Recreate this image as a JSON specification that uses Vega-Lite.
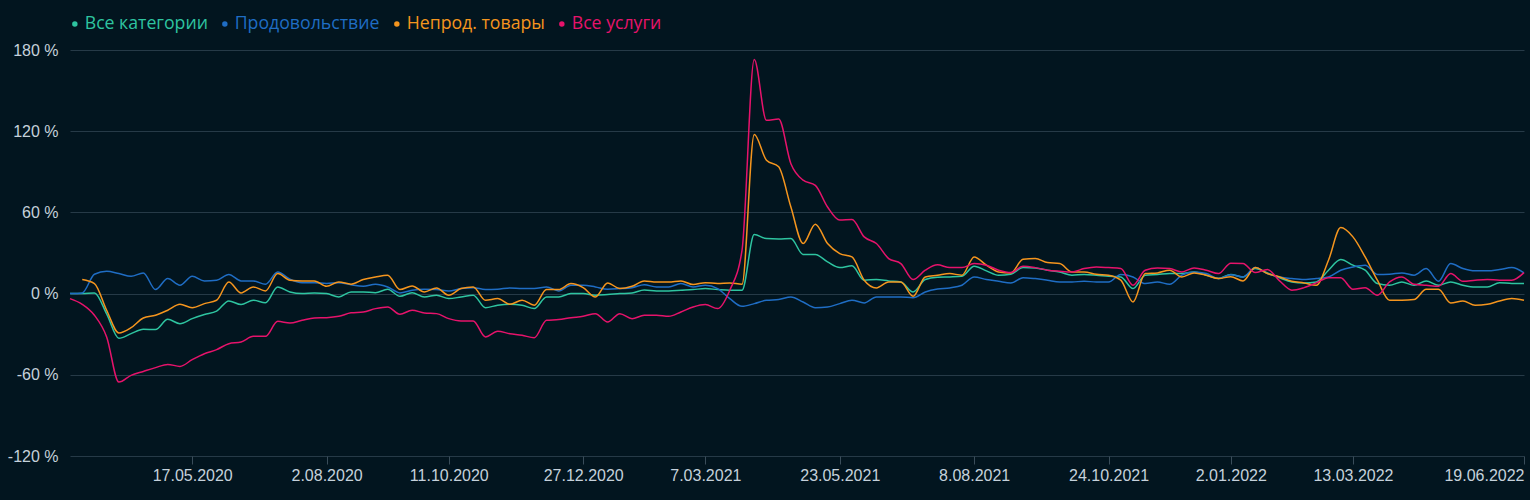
{
"$schema": "https://vega.github.io/schema/vega-lite/v6.json",
"width": 1454, "height": 406,
"autosize": {"type": "none"},
"padding": {"left": 70, "top": 50, "right": 6, "bottom": 44},
"background": "#02151f",
"config": {"view": {"stroke": null}},
"data": {"values": [
{"date":"2020-03-08","series":"Все категории","value":0},
{"date":"2020-03-15","series":"Все категории","value":0},
{"date":"2020-03-22","series":"Все категории","value":0.5},
{"date":"2020-03-29","series":"Все категории","value":-15},
{"date":"2020-04-05","series":"Все категории","value":-33},
{"date":"2020-04-12","series":"Все категории","value":-29.6},
{"date":"2020-04-19","series":"Все категории","value":-26.4},
{"date":"2020-04-26","series":"Все категории","value":-26.6},
{"date":"2020-05-03","series":"Все категории","value":-19},
{"date":"2020-05-10","series":"Все категории","value":-22.2},
{"date":"2020-05-17","series":"Все категории","value":-18.5},
{"date":"2020-05-24","series":"Все категории","value":-15.5},
{"date":"2020-05-31","series":"Все категории","value":-13},
{"date":"2020-06-07","series":"Все категории","value":-5.4},
{"date":"2020-06-14","series":"Все категории","value":-8.1},
{"date":"2020-06-21","series":"Все категории","value":-4.9},
{"date":"2020-06-28","series":"Все категории","value":-6.7},
{"date":"2020-07-05","series":"Все категории","value":4.9},
{"date":"2020-07-12","series":"Все категории","value":1.2},
{"date":"2020-07-19","series":"Все категории","value":0},
{"date":"2020-07-26","series":"Все категории","value":0.5},
{"date":"2020-08-02","series":"Все категории","value":0},
{"date":"2020-08-09","series":"Все категории","value":-2.5},
{"date":"2020-08-16","series":"Все категории","value":1.2},
{"date":"2020-08-23","series":"Все категории","value":1.2},
{"date":"2020-08-30","series":"Все категории","value":0.7},
{"date":"2020-09-06","series":"Все категории","value":3.2},
{"date":"2020-09-13","series":"Все категории","value":-2},
{"date":"2020-09-20","series":"Все категории","value":0.7},
{"date":"2020-09-27","series":"Все категории","value":-2.5},
{"date":"2020-10-04","series":"Все категории","value":-1.2},
{"date":"2020-10-11","series":"Все категории","value":-3.7},
{"date":"2020-10-18","series":"Все категории","value":-2.5},
{"date":"2020-10-25","series":"Все категории","value":-1.2},
{"date":"2020-11-01","series":"Все категории","value":-10.4},
{"date":"2020-11-08","series":"Все категории","value":-8.6},
{"date":"2020-11-15","series":"Все категории","value":-7.9},
{"date":"2020-11-22","series":"Все категории","value":-8.6},
{"date":"2020-11-29","series":"Все категории","value":-11.1},
{"date":"2020-12-06","series":"Все категории","value":-2.5},
{"date":"2020-12-13","series":"Все категории","value":-2.5},
{"date":"2020-12-20","series":"Все категории","value":0},
{"date":"2020-12-27","series":"Все категории","value":0},
{"date":"2021-01-03","series":"Все категории","value":-1.2},
{"date":"2021-01-10","series":"Все категории","value":-0.7},
{"date":"2021-01-17","series":"Все категории","value":0},
{"date":"2021-01-24","series":"Все категории","value":0.5},
{"date":"2021-01-31","series":"Все категории","value":2.7},
{"date":"2021-02-07","series":"Все категории","value":2},
{"date":"2021-02-14","series":"Все категории","value":2},
{"date":"2021-02-21","series":"Все категории","value":2.5},
{"date":"2021-02-28","series":"Все категории","value":3},
{"date":"2021-03-07","series":"Все категории","value":3.7},
{"date":"2021-03-14","series":"Все категории","value":3},
{"date":"2021-03-21","series":"Все категории","value":2.5},
{"date":"2021-03-28","series":"Все категории","value":2.5},
{"date":"2021-04-04","series":"Все категории","value":43.6},
{"date":"2021-04-11","series":"Все категории","value":40.7},
{"date":"2021-04-18","series":"Все категории","value":40.4},
{"date":"2021-04-25","series":"Все категории","value":40.7},
{"date":"2021-05-02","series":"Все категории","value":28.9},
{"date":"2021-05-09","series":"Все категории","value":28.9},
{"date":"2021-05-16","series":"Все категории","value":23.4},
{"date":"2021-05-23","series":"Все категории","value":19.2},
{"date":"2021-05-30","series":"Все категории","value":20.5},
{"date":"2021-06-06","series":"Все категории","value":9.9},
{"date":"2021-06-13","series":"Все категории","value":10.4},
{"date":"2021-06-20","series":"Все категории","value":9.4},
{"date":"2021-06-27","series":"Все категории","value":8.6},
{"date":"2021-07-04","series":"Все категории","value":1.2},
{"date":"2021-07-11","series":"Все категории","value":10.4},
{"date":"2021-07-18","series":"Все категории","value":12},
{"date":"2021-07-25","series":"Все категории","value":12.3},
{"date":"2021-08-01","series":"Все категории","value":12.8},
{"date":"2021-08-08","series":"Все категории","value":20.2},
{"date":"2021-08-15","series":"Все категории","value":16.8},
{"date":"2021-08-22","series":"Все категории","value":13.6},
{"date":"2021-08-29","series":"Все категории","value":14.3},
{"date":"2021-09-05","series":"Все категории","value":19.2},
{"date":"2021-09-12","series":"Все категории","value":19},
{"date":"2021-09-19","series":"Все категории","value":17.3},
{"date":"2021-09-26","series":"Все категории","value":16},
{"date":"2021-10-03","series":"Все категории","value":13.6},
{"date":"2021-10-10","series":"Все категории","value":14.1},
{"date":"2021-10-17","series":"Все категории","value":13.6},
{"date":"2021-10-24","series":"Все категории","value":12.8},
{"date":"2021-10-31","series":"Все категории","value":12.3},
{"date":"2021-11-07","series":"Все категории","value":3.7},
{"date":"2021-11-14","series":"Все категории","value":13.6},
{"date":"2021-11-21","series":"Все категории","value":14.1},
{"date":"2021-11-28","series":"Все категории","value":14.8},
{"date":"2021-12-05","series":"Все категории","value":14.8},
{"date":"2021-12-12","series":"Все категории","value":16},
{"date":"2021-12-19","series":"Все категории","value":13.6},
{"date":"2021-12-26","series":"Все категории","value":11.1},
{"date":"2022-01-02","series":"Все категории","value":14.2},
{"date":"2022-01-09","series":"Все категории","value":12.3},
{"date":"2022-01-16","series":"Все категории","value":18.5},
{"date":"2022-01-23","series":"Все категории","value":15.3},
{"date":"2022-01-30","series":"Все категории","value":11.6},
{"date":"2022-02-06","series":"Все категории","value":8.6},
{"date":"2022-02-13","series":"Все категории","value":7.9},
{"date":"2022-02-20","series":"Все категории","value":8.6},
{"date":"2022-02-27","series":"Все категории","value":17.3},
{"date":"2022-03-06","series":"Все категории","value":25.2},
{"date":"2022-03-13","series":"Все категории","value":21},
{"date":"2022-03-20","series":"Все категории","value":17.3},
{"date":"2022-03-27","series":"Все категории","value":7.4},
{"date":"2022-04-03","series":"Все категории","value":6.2},
{"date":"2022-04-10","series":"Все категории","value":8.6},
{"date":"2022-04-17","series":"Все категории","value":6.2},
{"date":"2022-04-24","series":"Все категории","value":9.4},
{"date":"2022-05-01","series":"Все категории","value":6.2},
{"date":"2022-05-08","series":"Все категории","value":8.6},
{"date":"2022-05-15","series":"Все категории","value":6.2},
{"date":"2022-05-22","series":"Все категории","value":4.9},
{"date":"2022-05-29","series":"Все категории","value":4.9},
{"date":"2022-06-05","series":"Все категории","value":8.1},
{"date":"2022-06-12","series":"Все категории","value":7.4},
{"date":"2022-06-19","series":"Все категории","value":7.4},
{"date":"2020-03-08","series":"Продовольствие","value":0},
{"date":"2020-03-15","series":"Продовольствие","value":0.5},
{"date":"2020-03-22","series":"Продовольствие","value":14.3},
{"date":"2020-03-29","series":"Продовольствие","value":16.5},
{"date":"2020-04-05","series":"Продовольствие","value":14.8},
{"date":"2020-04-12","series":"Продовольствие","value":12.8},
{"date":"2020-04-19","series":"Продовольствие","value":15.3},
{"date":"2020-04-26","series":"Продовольствие","value":3},
{"date":"2020-05-03","series":"Продовольствие","value":11.1},
{"date":"2020-05-10","series":"Продовольствие","value":6.2},
{"date":"2020-05-17","series":"Продовольствие","value":12.8},
{"date":"2020-05-24","series":"Продовольствие","value":9.4},
{"date":"2020-05-31","series":"Продовольствие","value":9.9},
{"date":"2020-06-07","series":"Продовольствие","value":14.1},
{"date":"2020-06-14","series":"Продовольствие","value":9.4},
{"date":"2020-06-21","series":"Продовольствие","value":9.4},
{"date":"2020-06-28","series":"Продовольствие","value":6.9},
{"date":"2020-07-05","series":"Продовольствие","value":16},
{"date":"2020-07-12","series":"Продовольствие","value":10.6},
{"date":"2020-07-19","series":"Продовольствие","value":8.1},
{"date":"2020-07-26","series":"Продовольствие","value":8.1},
{"date":"2020-08-02","series":"Продовольствие","value":7.4},
{"date":"2020-08-09","series":"Продовольствие","value":8.1},
{"date":"2020-08-16","series":"Продовольствие","value":6.5},
{"date":"2020-08-23","series":"Продовольствие","value":5.4},
{"date":"2020-08-30","series":"Продовольствие","value":6.9},
{"date":"2020-09-06","series":"Продовольствие","value":4.9},
{"date":"2020-09-13","series":"Продовольствие","value":0.5},
{"date":"2020-09-20","series":"Продовольствие","value":2.5},
{"date":"2020-09-27","series":"Продовольствие","value":3.2},
{"date":"2020-10-04","series":"Продовольствие","value":3},
{"date":"2020-10-11","series":"Продовольствие","value":2},
{"date":"2020-10-18","series":"Продовольствие","value":3.7},
{"date":"2020-10-25","series":"Продовольствие","value":4.4},
{"date":"2020-11-01","series":"Продовольствие","value":3},
{"date":"2020-11-08","series":"Продовольствие","value":3.2},
{"date":"2020-11-15","series":"Продовольствие","value":4.2},
{"date":"2020-11-22","series":"Продовольствие","value":3.7},
{"date":"2020-11-29","series":"Продовольствие","value":3.7},
{"date":"2020-12-06","series":"Продовольствие","value":4.9},
{"date":"2020-12-13","series":"Продовольствие","value":2},
{"date":"2020-12-20","series":"Продовольствие","value":6.2},
{"date":"2020-12-27","series":"Продовольствие","value":6.2},
{"date":"2021-01-03","series":"Продовольствие","value":4.9},
{"date":"2021-01-10","series":"Продовольствие","value":3.2},
{"date":"2021-01-17","series":"Продовольствие","value":3.7},
{"date":"2021-01-24","series":"Продовольствие","value":4.4},
{"date":"2021-01-31","series":"Продовольствие","value":6.5},
{"date":"2021-02-07","series":"Продовольствие","value":4.9},
{"date":"2021-02-14","series":"Продовольствие","value":4.9},
{"date":"2021-02-21","series":"Продовольствие","value":7.4},
{"date":"2021-02-28","series":"Продовольствие","value":4.9},
{"date":"2021-03-07","series":"Продовольствие","value":6.2},
{"date":"2021-03-14","series":"Продовольствие","value":3.7},
{"date":"2021-03-21","series":"Продовольствие","value":-3.7},
{"date":"2021-03-28","series":"Продовольствие","value":-9.4},
{"date":"2021-04-04","series":"Продовольствие","value":-7.4},
{"date":"2021-04-11","series":"Продовольствие","value":-4.9},
{"date":"2021-04-18","series":"Продовольствие","value":-4.4},
{"date":"2021-04-25","series":"Продовольствие","value":-2.5},
{"date":"2021-05-02","series":"Продовольствие","value":-6.2},
{"date":"2021-05-09","series":"Продовольствие","value":-10.4},
{"date":"2021-05-16","series":"Продовольствие","value":-9.9},
{"date":"2021-05-23","series":"Продовольствие","value":-7.4},
{"date":"2021-05-30","series":"Продовольствие","value":-4.9},
{"date":"2021-06-06","series":"Продовольствие","value":-6.9},
{"date":"2021-06-13","series":"Продовольствие","value":-2.5},
{"date":"2021-06-20","series":"Продовольствие","value":-2.5},
{"date":"2021-06-27","series":"Продовольствие","value":-2.5},
{"date":"2021-07-04","series":"Продовольствие","value":-3},
{"date":"2021-07-11","series":"Продовольствие","value":1.2},
{"date":"2021-07-18","series":"Продовольствие","value":3.4},
{"date":"2021-07-25","series":"Продовольствие","value":4.2},
{"date":"2021-08-01","series":"Продовольствие","value":6.2},
{"date":"2021-08-08","series":"Продовольствие","value":12.3},
{"date":"2021-08-15","series":"Продовольствие","value":10.4},
{"date":"2021-08-22","series":"Продовольствие","value":9.1},
{"date":"2021-08-29","series":"Продовольствие","value":7.9},
{"date":"2021-09-05","series":"Продовольствие","value":11.8},
{"date":"2021-09-12","series":"Продовольствие","value":11.1},
{"date":"2021-09-19","series":"Продовольствие","value":9.9},
{"date":"2021-09-26","series":"Продовольствие","value":8.6},
{"date":"2021-10-03","series":"Продовольствие","value":8.6},
{"date":"2021-10-10","series":"Продовольствие","value":9.1},
{"date":"2021-10-17","series":"Продовольствие","value":8.6},
{"date":"2021-10-24","series":"Продовольствие","value":8.6},
{"date":"2021-10-31","series":"Продовольствие","value":14.1},
{"date":"2021-11-07","series":"Продовольствие","value":12.3},
{"date":"2021-11-14","series":"Продовольствие","value":7.4},
{"date":"2021-11-21","series":"Продовольствие","value":8.6},
{"date":"2021-11-28","series":"Продовольствие","value":6.9},
{"date":"2021-12-05","series":"Продовольствие","value":13.6},
{"date":"2021-12-12","series":"Продовольствие","value":16},
{"date":"2021-12-19","series":"Продовольствие","value":14.8},
{"date":"2021-12-26","series":"Продовольствие","value":11.1},
{"date":"2022-01-02","series":"Продовольствие","value":14},
{"date":"2022-01-09","series":"Продовольствие","value":12.3},
{"date":"2022-01-16","series":"Продовольствие","value":19.2},
{"date":"2022-01-23","series":"Продовольствие","value":14.8},
{"date":"2022-01-30","series":"Продовольствие","value":12.3},
{"date":"2022-02-06","series":"Продовольствие","value":11.1},
{"date":"2022-02-13","series":"Продовольствие","value":10.4},
{"date":"2022-02-20","series":"Продовольствие","value":11.1},
{"date":"2022-02-27","series":"Продовольствие","value":12.3},
{"date":"2022-03-06","series":"Продовольствие","value":17.3},
{"date":"2022-03-13","series":"Продовольствие","value":19.7},
{"date":"2022-03-20","series":"Продовольствие","value":21},
{"date":"2022-03-27","series":"Продовольствие","value":14.1},
{"date":"2022-04-03","series":"Продовольствие","value":14.3},
{"date":"2022-04-10","series":"Продовольствие","value":15.3},
{"date":"2022-04-17","series":"Продовольствие","value":13.6},
{"date":"2022-04-24","series":"Продовольствие","value":18.5},
{"date":"2022-05-01","series":"Продовольствие","value":9.1},
{"date":"2022-05-08","series":"Продовольствие","value":22.2},
{"date":"2022-05-15","series":"Продовольствие","value":18.5},
{"date":"2022-05-22","series":"Продовольствие","value":16.8},
{"date":"2022-05-29","series":"Продовольствие","value":16.8},
{"date":"2022-06-05","series":"Продовольствие","value":17.8},
{"date":"2022-06-12","series":"Продовольствие","value":19.2},
{"date":"2022-06-19","series":"Продовольствие","value":15.3},
{"date":"2020-03-15","series":"Непрод. товары","value":10.4},
{"date":"2020-03-22","series":"Непрод. товары","value":7.4},
{"date":"2020-03-29","series":"Непрод. товары","value":-12.3},
{"date":"2020-04-05","series":"Непрод. товары","value":-29.1},
{"date":"2020-04-12","series":"Непрод. товары","value":-25.2},
{"date":"2020-04-19","series":"Непрод. товары","value":-18},
{"date":"2020-04-26","series":"Непрод. товары","value":-16},
{"date":"2020-05-03","series":"Непрод. товары","value":-12.3},
{"date":"2020-05-10","series":"Непрод. товары","value":-7.9},
{"date":"2020-05-17","series":"Непрод. товары","value":-10.4},
{"date":"2020-05-24","series":"Непрод. товары","value":-7.4},
{"date":"2020-05-31","series":"Непрод. товары","value":-4.9},
{"date":"2020-06-07","series":"Непрод. товары","value":8.6},
{"date":"2020-06-14","series":"Непрод. товары","value":0.5},
{"date":"2020-06-21","series":"Непрод. товары","value":4.9},
{"date":"2020-06-28","series":"Непрод. товары","value":2},
{"date":"2020-07-05","series":"Непрод. товары","value":14.8},
{"date":"2020-07-12","series":"Непрод. товары","value":9.9},
{"date":"2020-07-19","series":"Непрод. товары","value":9.4},
{"date":"2020-07-26","series":"Непрод. товары","value":9.4},
{"date":"2020-08-02","series":"Непрод. товары","value":5.4},
{"date":"2020-08-09","series":"Непрод. товары","value":8.6},
{"date":"2020-08-16","series":"Непрод. товары","value":7},
{"date":"2020-08-23","series":"Непрод. товары","value":10.4},
{"date":"2020-08-30","series":"Непрод. товары","value":12.3},
{"date":"2020-09-06","series":"Непрод. товары","value":13.6},
{"date":"2020-09-13","series":"Непрод. товары","value":3},
{"date":"2020-09-20","series":"Непрод. товары","value":5.7},
{"date":"2020-09-27","series":"Непрод. товары","value":1.2},
{"date":"2020-10-04","series":"Непрод. товары","value":4.2},
{"date":"2020-10-11","series":"Непрод. товары","value":-1.2},
{"date":"2020-10-18","series":"Непрод. товары","value":3.7},
{"date":"2020-10-25","series":"Непрод. товары","value":4.9},
{"date":"2020-11-01","series":"Непрод. товары","value":-4.9},
{"date":"2020-11-08","series":"Непрод. товары","value":-3.7},
{"date":"2020-11-15","series":"Непрод. товары","value":-7.9},
{"date":"2020-11-22","series":"Непрод. товары","value":-4.9},
{"date":"2020-11-29","series":"Непрод. товары","value":-8.6},
{"date":"2020-12-06","series":"Непрод. товары","value":3},
{"date":"2020-12-13","series":"Непрод. товары","value":3},
{"date":"2020-12-20","series":"Непрод. товары","value":7.4},
{"date":"2020-12-27","series":"Непрод. товары","value":4.4},
{"date":"2021-01-03","series":"Непрод. товары","value":-2.5},
{"date":"2021-01-10","series":"Непрод. товары","value":7.9},
{"date":"2021-01-17","series":"Непрод. товары","value":3.7},
{"date":"2021-01-24","series":"Непрод. товары","value":5.4},
{"date":"2021-01-31","series":"Непрод. товары","value":9.4},
{"date":"2021-02-07","series":"Непрод. товары","value":8.6},
{"date":"2021-02-14","series":"Непрод. товары","value":8.6},
{"date":"2021-02-21","series":"Непрод. товары","value":9.4},
{"date":"2021-02-28","series":"Непрод. товары","value":6.7},
{"date":"2021-03-07","series":"Непрод. товары","value":8.1},
{"date":"2021-03-14","series":"Непрод. товары","value":7.4},
{"date":"2021-03-21","series":"Непрод. товары","value":7.9},
{"date":"2021-03-28","series":"Непрод. товары","value":6.9},
{"date":"2021-04-04","series":"Непрод. товары","value":117.6},
{"date":"2021-04-11","series":"Непрод. товары","value":98.6},
{"date":"2021-04-18","series":"Непрод. товары","value":93.7},
{"date":"2021-04-25","series":"Непрод. товары","value":64},
{"date":"2021-05-02","series":"Непрод. товары","value":37},
{"date":"2021-05-09","series":"Непрод. товары","value":51.3},
{"date":"2021-05-16","series":"Непрод. товары","value":37},
{"date":"2021-05-23","series":"Непрод. товары","value":29.6},
{"date":"2021-05-30","series":"Непрод. товары","value":27.1},
{"date":"2021-06-06","series":"Непрод. товары","value":9.9},
{"date":"2021-06-13","series":"Непрод. товары","value":4.2},
{"date":"2021-06-20","series":"Непрод. товары","value":8.6},
{"date":"2021-06-27","series":"Непрод. товары","value":8.6},
{"date":"2021-07-04","series":"Непрод. товары","value":-2},
{"date":"2021-07-11","series":"Непрод. товары","value":12.3},
{"date":"2021-07-18","series":"Непрод. товары","value":13.5},
{"date":"2021-07-25","series":"Непрод. товары","value":14.8},
{"date":"2021-08-01","series":"Непрод. товары","value":13.6},
{"date":"2021-08-08","series":"Непрод. товары","value":27.1},
{"date":"2021-08-15","series":"Непрод. товары","value":21},
{"date":"2021-08-22","series":"Непрод. товары","value":16},
{"date":"2021-08-29","series":"Непрод. товары","value":15.3},
{"date":"2021-09-05","series":"Непрод. товары","value":25.4},
{"date":"2021-09-12","series":"Непрод. товары","value":25.9},
{"date":"2021-09-19","series":"Непрод. товары","value":22.9},
{"date":"2021-09-26","series":"Непрод. товары","value":22.2},
{"date":"2021-10-03","series":"Непрод. товары","value":16},
{"date":"2021-10-10","series":"Непрод. товары","value":16},
{"date":"2021-10-17","series":"Непрод. товары","value":14.3},
{"date":"2021-10-24","series":"Непрод. товары","value":13.6},
{"date":"2021-10-31","series":"Непрод. товары","value":9.9},
{"date":"2021-11-07","series":"Непрод. товары","value":-6.2},
{"date":"2021-11-14","series":"Непрод. товары","value":14.8},
{"date":"2021-11-21","series":"Непрод. товары","value":15.3},
{"date":"2021-11-28","series":"Непрод. товары","value":17.3},
{"date":"2021-12-05","series":"Непрод. товары","value":12.3},
{"date":"2021-12-12","series":"Непрод. товары","value":15.3},
{"date":"2021-12-19","series":"Непрод. товары","value":13.6},
{"date":"2021-12-26","series":"Непрод. товары","value":11.1},
{"date":"2022-01-02","series":"Непрод. товары","value":12.5},
{"date":"2022-01-09","series":"Непрод. товары","value":9.4},
{"date":"2022-01-16","series":"Непрод. товары","value":19.2},
{"date":"2022-01-23","series":"Непрод. товары","value":14.8},
{"date":"2022-01-30","series":"Непрод. товары","value":12.3},
{"date":"2022-02-06","series":"Непрод. товары","value":9.1},
{"date":"2022-02-13","series":"Непрод. товары","value":7.9},
{"date":"2022-02-20","series":"Непрод. товары","value":6.2},
{"date":"2022-02-27","series":"Непрод. товары","value":24.7},
{"date":"2022-03-06","series":"Непрод. товары","value":48.8},
{"date":"2022-03-13","series":"Непрод. товары","value":41.9},
{"date":"2022-03-20","series":"Непрод. товары","value":27.1},
{"date":"2022-03-27","series":"Непрод. товары","value":9.9},
{"date":"2022-04-03","series":"Непрод. товары","value":-4.9},
{"date":"2022-04-10","series":"Непрод. товары","value":-4.9},
{"date":"2022-04-17","series":"Непрод. товары","value":-4.4},
{"date":"2022-04-24","series":"Непрод. товары","value":3.2},
{"date":"2022-05-01","series":"Непрод. товары","value":3.2},
{"date":"2022-05-08","series":"Непрод. товары","value":-6.9},
{"date":"2022-05-15","series":"Непрод. товары","value":-5.4},
{"date":"2022-05-22","series":"Непрод. товары","value":-8.6},
{"date":"2022-05-29","series":"Непрод. товары","value":-7.9},
{"date":"2022-06-05","series":"Непрод. товары","value":-5.4},
{"date":"2022-06-12","series":"Непрод. товары","value":-3.7},
{"date":"2022-06-19","series":"Непрод. товары","value":-4.9},
{"date":"2020-03-08","series":"Все услуги","value":-3.7},
{"date":"2020-03-15","series":"Все услуги","value":-7.9},
{"date":"2020-03-22","series":"Все услуги","value":-16},
{"date":"2020-03-29","series":"Все услуги","value":-32},
{"date":"2020-04-05","series":"Все услуги","value":-65.4},
{"date":"2020-04-12","series":"Все услуги","value":-60.4},
{"date":"2020-04-19","series":"Все услуги","value":-57.5},
{"date":"2020-04-26","series":"Все услуги","value":-54.7},
{"date":"2020-05-03","series":"Все услуги","value":-52.3},
{"date":"2020-05-10","series":"Все услуги","value":-53.8},
{"date":"2020-05-17","series":"Все услуги","value":-48.8},
{"date":"2020-05-24","series":"Все услуги","value":-44.4},
{"date":"2020-05-31","series":"Все услуги","value":-41.4},
{"date":"2020-06-07","series":"Все услуги","value":-37},
{"date":"2020-06-14","series":"Все услуги","value":-35.8},
{"date":"2020-06-21","series":"Все услуги","value":-31.6},
{"date":"2020-06-28","series":"Все услуги","value":-31.6},
{"date":"2020-07-05","series":"Все услуги","value":-20.5},
{"date":"2020-07-12","series":"Все услуги","value":-21.7},
{"date":"2020-07-19","series":"Все услуги","value":-19.7},
{"date":"2020-07-26","series":"Все услуги","value":-18},
{"date":"2020-08-02","series":"Все услуги","value":-17.8},
{"date":"2020-08-09","series":"Все услуги","value":-16.8},
{"date":"2020-08-16","series":"Все услуги","value":-14.2},
{"date":"2020-08-23","series":"Все услуги","value":-13.6},
{"date":"2020-08-30","series":"Все услуги","value":-11.1},
{"date":"2020-09-06","series":"Все услуги","value":-9.9},
{"date":"2020-09-13","series":"Все услуги","value":-15.3},
{"date":"2020-09-20","series":"Все услуги","value":-12.3},
{"date":"2020-09-27","series":"Все услуги","value":-14.3},
{"date":"2020-10-04","series":"Все услуги","value":-14.8},
{"date":"2020-10-11","series":"Все услуги","value":-18.5},
{"date":"2020-10-18","series":"Все услуги","value":-20.2},
{"date":"2020-10-25","series":"Все услуги","value":-20.2},
{"date":"2020-11-01","series":"Все услуги","value":-32},
{"date":"2020-11-08","series":"Все услуги","value":-27.9},
{"date":"2020-11-15","series":"Все услуги","value":-29.6},
{"date":"2020-11-22","series":"Все услуги","value":-30.8},
{"date":"2020-11-29","series":"Все услуги","value":-32.6},
{"date":"2020-12-06","series":"Все услуги","value":-19.7},
{"date":"2020-12-13","series":"Все услуги","value":-19.2},
{"date":"2020-12-20","series":"Все услуги","value":-17.8},
{"date":"2020-12-27","series":"Все услуги","value":-16.8},
{"date":"2021-01-03","series":"Все услуги","value":-14.8},
{"date":"2021-01-10","series":"Все услуги","value":-21},
{"date":"2021-01-17","series":"Все услуги","value":-14.8},
{"date":"2021-01-24","series":"Все услуги","value":-18.5},
{"date":"2021-01-31","series":"Все услуги","value":-16},
{"date":"2021-02-07","series":"Все услуги","value":-16},
{"date":"2021-02-14","series":"Все услуги","value":-16.8},
{"date":"2021-02-21","series":"Все услуги","value":-13.6},
{"date":"2021-02-28","series":"Все услуги","value":-9.9},
{"date":"2021-03-07","series":"Все услуги","value":-8.1},
{"date":"2021-03-14","series":"Все услуги","value":-11.1},
{"date":"2021-03-21","series":"Все услуги","value":2.5},
{"date":"2021-03-28","series":"Все услуги","value":32},
{"date":"2021-04-04","series":"Все услуги","value":173},
{"date":"2021-04-11","series":"Все услуги","value":128},
{"date":"2021-04-18","series":"Все услуги","value":129},
{"date":"2021-04-25","series":"Все услуги","value":96},
{"date":"2021-05-02","series":"Все услуги","value":83.8},
{"date":"2021-05-09","series":"Все услуги","value":80},
{"date":"2021-05-16","series":"Все услуги","value":64},
{"date":"2021-05-23","series":"Все услуги","value":54.3},
{"date":"2021-05-30","series":"Все услуги","value":54.7},
{"date":"2021-06-06","series":"Все услуги","value":41.9},
{"date":"2021-06-13","series":"Все услуги","value":37},
{"date":"2021-06-20","series":"Все услуги","value":25.9},
{"date":"2021-06-27","series":"Все услуги","value":22.2},
{"date":"2021-07-04","series":"Все услуги","value":10.4},
{"date":"2021-07-11","series":"Все услуги","value":17.3},
{"date":"2021-07-18","series":"Все услуги","value":21.3},
{"date":"2021-07-25","series":"Все услуги","value":19.2},
{"date":"2021-08-01","series":"Все услуги","value":19.2},
{"date":"2021-08-08","series":"Все услуги","value":22.2},
{"date":"2021-08-15","series":"Все услуги","value":21},
{"date":"2021-08-22","series":"Все услуги","value":17.3},
{"date":"2021-08-29","series":"Все услуги","value":15.5},
{"date":"2021-09-05","series":"Все услуги","value":20.2},
{"date":"2021-09-12","series":"Все услуги","value":19.2},
{"date":"2021-09-19","series":"Все услуги","value":17.3},
{"date":"2021-09-26","series":"Все услуги","value":16.5},
{"date":"2021-10-03","series":"Все услуги","value":16},
{"date":"2021-10-10","series":"Все услуги","value":18.5},
{"date":"2021-10-17","series":"Все услуги","value":19.7},
{"date":"2021-10-24","series":"Все услуги","value":19.2},
{"date":"2021-10-31","series":"Все услуги","value":18.5},
{"date":"2021-11-07","series":"Все услуги","value":6.2},
{"date":"2021-11-14","series":"Все услуги","value":17.3},
{"date":"2021-11-21","series":"Все услуги","value":19},
{"date":"2021-11-28","series":"Все услуги","value":18.5},
{"date":"2021-12-05","series":"Все услуги","value":16},
{"date":"2021-12-12","series":"Все услуги","value":19},
{"date":"2021-12-19","series":"Все услуги","value":17.3},
{"date":"2021-12-26","series":"Все услуги","value":14.8},
{"date":"2022-01-02","series":"Все услуги","value":22.5},
{"date":"2022-01-09","series":"Все услуги","value":22.2},
{"date":"2022-01-16","series":"Все услуги","value":15.5},
{"date":"2022-01-23","series":"Все услуги","value":17.8},
{"date":"2022-01-30","series":"Все услуги","value":9.4},
{"date":"2022-02-06","series":"Все услуги","value":2.5},
{"date":"2022-02-13","series":"Все услуги","value":4.4},
{"date":"2022-02-20","series":"Все услуги","value":7.9},
{"date":"2022-02-27","series":"Все услуги","value":11.8},
{"date":"2022-03-06","series":"Все услуги","value":11.8},
{"date":"2022-03-13","series":"Все услуги","value":3.2},
{"date":"2022-03-20","series":"Все услуги","value":4.4},
{"date":"2022-03-27","series":"Все услуги","value":-1.2},
{"date":"2022-04-03","series":"Все услуги","value":8.6},
{"date":"2022-04-10","series":"Все услуги","value":12.3},
{"date":"2022-04-17","series":"Все услуги","value":6.9},
{"date":"2022-04-24","series":"Все услуги","value":6.2},
{"date":"2022-05-01","series":"Все услуги","value":5.4},
{"date":"2022-05-08","series":"Все услуги","value":14.8},
{"date":"2022-05-15","series":"Все услуги","value":9.1},
{"date":"2022-05-22","series":"Все услуги","value":9.9},
{"date":"2022-05-29","series":"Все услуги","value":10.4},
{"date":"2022-06-05","series":"Все услуги","value":9.9},
{"date":"2022-06-12","series":"Все услуги","value":9.9},
{"date":"2022-06-19","series":"Все услуги","value":15.5}
]},
"mark": {"type": "line", "interpolate": "monotone", "strokeWidth": 1.5},
"encoding": {
  "x": {"field": "date", "type": "temporal",
    "scale": {"type": "utc", "nice": false, "domain": [{"year": 2020, "month": 3, "date": 8, "utc": true}, {"year": 2022, "month": 6, "date": 19, "utc": true}]},
    "axis": {"title": null, "grid": false, "domain": false, "format": "%-d.%m.%Y",
      "values": [{"year": 2020, "month": 5, "date": 17, "utc": true}, {"year": 2020, "month": 8, "date": 2, "utc": true}, {"year": 2020, "month": 10, "date": 11, "utc": true}, {"year": 2020, "month": 12, "date": 27, "utc": true}, {"year": 2021, "month": 3, "date": 7, "utc": true}, {"year": 2021, "month": 5, "date": 23, "utc": true}, {"year": 2021, "month": 8, "date": 8, "utc": true}, {"year": 2021, "month": 10, "date": 24, "utc": true}, {"year": 2022, "month": 1, "date": 2, "utc": true}, {"year": 2022, "month": 3, "date": 13, "utc": true}, {"year": 2022, "month": 6, "date": 19, "utc": true}],
      "tickColor": "#3a4d5a", "tickSize": 8, "labelPadding": 3, "labelColor": "#c5d1db", "labelFont": "Liberation Sans", "labelFontSize": 16, "labelFlush": true, "labelOverlap": false}},
  "y": {"field": "value", "type": "quantitative",
    "scale": {"domain": [-120, 180], "nice": false, "zero": false},
    "axis": {"title": null, "values": [-120, -60, 0, 60, 120, 180], "labelExpr": "datum.value + ' %'", "grid": true, "gridColor": "#263a47", "gridWidth": 1, "domain": false, "ticks": false, "labelPadding": 12, "labelColor": "#c5d1db", "labelFont": "Liberation Sans", "labelFontSize": 16}},
  "color": {"field": "series", "type": "nominal",
    "scale": {"domain": ["Все категории", "Продовольствие", "Непрод. товары", "Все услуги"], "range": ["#2ec4a0", "#1f6dc4", "#f5951e", "#e6136b"]},
    "legend": {"title": null, "orient": "none", "legendX": -4, "legendY": -35, "direction": "horizontal", "padding": 0,
      "symbolType": "circle", "symbolSize": 30, "symbolStrokeWidth": 0, "labelFont": "Open Sans", "labelFontSize": 17.7, "labelOffset": 1, "columnPadding": 8,
      "encode": {"labels": {"update": {"fill": {"scale": "color", "field": "value"}}}, "symbols": {"update": {"fill": {"scale": "color", "field": "value"}, "stroke": {"value": "transparent"}}}}}}
}
}
